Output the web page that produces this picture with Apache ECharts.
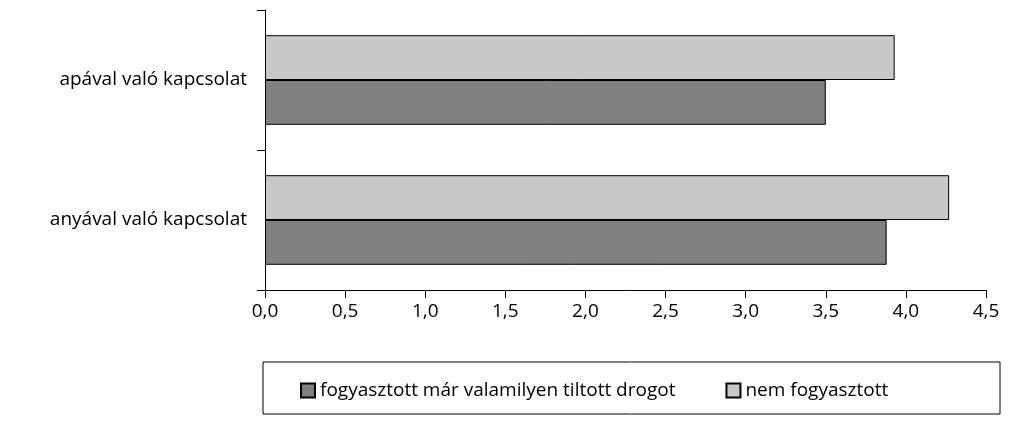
<!DOCTYPE html>
<html>
<head>
    <meta charset="utf-8">
    <script src="https://cdnjs.cloudflare.com/ajax/libs/echarts/6.0.0/echarts.min.js"></script>
</head>
<body style="margin:0">
    <div id="main" style="width:1024px; height:428px;"></div>
</body>
<script type="text/javascript">
    const categories = ['anyával való kapcsolat', 'apával való kapcsolat'];
    const seriesNames = ['fogyasztott már valamilyen tiltott drogot', 'nem fogyasztott'];
    const usedValues = [3.88, 3.50];
    const notUsedValues = [4.27, 3.93];

    const myChart = echarts.init(document.getElementById('main'));
    const font = 'Open Sans';
    const barStyle = color => ({ color: color, borderColor: '#000', borderWidth: 1 });

    let option = {
        animation: false,
        backgroundColor: '#fff',
        textStyle: { fontFamily: font },
        grid: { left: 265, right: 38, top: 10, bottom: 138 },
        graphic: [{
            type: 'rect',
            shape: { x: 263, y: 362, width: 737, height: 52 },
            style: { fill: 'none', stroke: '#000', lineWidth: 1 }
        }],
        legend: {
            data: seriesNames,
            left: 295,
            top: 376,
            itemGap: 50,
            itemWidth: 14,
            itemHeight: 14,
            icon: 'rect',
            textStyle: { fontFamily: font, fontSize: 19, color: '#000' }
        },
        xAxis: {
            type: 'value',
            min: 0,
            max: 4.5,
            interval: 0.5,
            splitLine: { show: false },
            axisLine: { show: true, lineStyle: { color: '#000' } },
            axisTick: { show: true, length: 8, lineStyle: { color: '#000' } },
            axisLabel: {
                color: '#000', fontSize: 19, margin: 12,
                formatter: v => v.toFixed(1).replace('.', ',')
            }
        },
        yAxis: {
            type: 'category',
            data: categories,
            axisLine: { lineStyle: { color: '#000' } },
            axisTick: { show: true, alignWithLabel: false, length: 8, lineStyle: { color: '#000' } },
            axisLabel: { color: '#000', fontSize: 19, margin: 18 }
        },
        series: [
            {
                name: seriesNames[1], type: 'bar', data: notUsedValues,
                barGap: '0%', barCategoryGap: '36%',
                itemStyle: barStyle('#c8c8c8')
            },
            {
                name: seriesNames[0], type: 'bar', data: usedValues,
                barGap: '0%', barCategoryGap: '36%',
                itemStyle: barStyle('#808080')
            }
        ]
    };
    myChart.setOption(option);
</script>
</html>
